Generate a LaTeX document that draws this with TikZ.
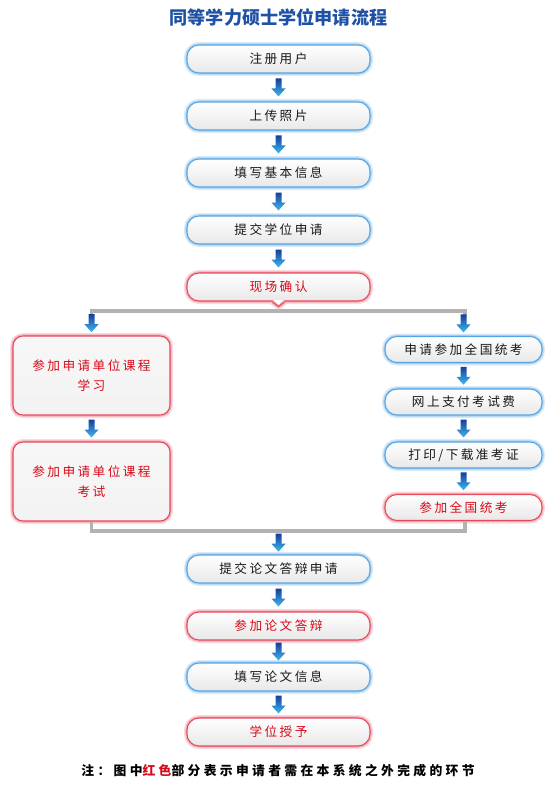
\documentclass[tikz,border=0pt]{standalone}
\usepackage{fontspec}
\setmainfont{Noto Sans CJK SC}
\newfontfamily\boxfont{Noto Sans CJK SC}[LetterSpace=19]
\newfontfamily\notefont{Noto Sans CJK SC}[LetterSpace=26]
\usetikzlibrary{calc}
\definecolor{titleblue}{RGB}{30,80,165}
\definecolor{glowblue}{RGB}{85,165,228}
\definecolor{glowred}{RGB}{232,72,92}
\definecolor{textred}{RGB}{215,10,25}
\definecolor{linegray}{RGB}{178,178,178}
\definecolor{arrowtop}{RGB}{22,62,155}
\definecolor{arrowbot}{RGB}{62,185,238}

\begin{document}
\begin{tikzpicture}[x=0.75pt,y=0.75pt,yscale=-1,xscale=1,
  box/.style={rectangle, rounded corners=9pt, minimum width=137.25pt, minimum height=21pt, inner sep=0pt,
    top color=white, bottom color=black!9, font=\boxfont\fontsize{9.5pt}{11pt}\selectfont, text=black!90},
  blueglow/.style={draw=glowblue, line width=0.8pt, preaction={draw=glowblue!22, line width=4.5pt}, preaction={draw=glowblue!50, line width=2.4pt}},
  redglow/.style={draw=glowred, line width=0.8pt, preaction={draw=glowred!20, line width=4.5pt}, preaction={draw=glowred!45, line width=2.4pt}},
  bluebox/.style={box, blueglow},
  redbox/.style={box, redglow, text=textred},
  sidebox/.style={minimum width=117.75pt, minimum height=19.5pt},
  bigbox/.style={box, redglow, text=textred, rounded corners=7.5pt, minimum width=117.75pt, minimum height=59.25pt,
    top color=black!3, bottom color=black!5, align=center},
  grayline/.style={draw=linegray, line width=2.4pt},
  downarrow/.pic={\path[top color=arrowtop, bottom color=arrowbot] (-3,9) -- (3,9) -- (3,-1) -- (7,-1) -- (0,-9) -- (-7,-1) -- (-3,-1) -- cycle;}
]
\useasboundingbox (0,0) rectangle (555,788);

% Title
\node (title) at (278.5,17) {\fontsize{13.6pt}{15pt}\selectfont\bfseries\color{titleblue}同等学力硕士学位申请流程};

% main column
\node [bluebox] (reg) at (278.5,59) {注册用户};
\node [bluebox] (photo) at (278.5,116) {上传照片};
\node [bluebox] (info) at (278.5,173) {填写基本信息};
\node [bluebox] (apply) at (278.5,230) {提交学位申请};
\node [redbox] (confirm) at (278.5,287) {现场确认};
% pointer under confirm
\fill [white] (272.5,300.5) -- (278.5,306.5) -- (284.5,300.5) -- cycle;
\draw [redglow, line join=round] (272.5,302) -- (278.5,306.5) -- (284.5,302);
\fill [white] (273.5,300) -- (278.5,304.8) -- (283.5,300) -- cycle;

% split line
\coordinate (split) at (278.5,311);
\draw [grayline] ($(split -| 91.5,0)+(0,4)$) -- (split -| 91.5,0) -- (split -| 465,0) -- ++(0,4);

% left column
\node [bigbox] (course) at (91.5,375.5) {参加申请单位课程\\[4pt]学习};
\node [bigbox] (exam) at (91.5,481.5) {参加申请单位课程\\[4pt]考试};

% right column
\node [bluebox, sidebox] (natapply) at (463.5,349.5) {申请参加全国统考};
\node [bluebox, sidebox] (pay) at (463.5,402) {网上支付考试费};
\node [bluebox, sidebox] (ticket) at (463.5,455) {打印/下载准考证};
\node [redbox, sidebox] (natexam) at (463.5,507.5) {参加全国统考};

% merge line
\coordinate (merge) at (278.5,531);
\draw [grayline] (exam.south) |- (merge) -| ($(natexam.south)+(1.5,0)$);

% thesis part
\node [bluebox] (thesis) at (278.5,569) {提交论文答辩申请};
\node [redbox] (defense) at (278.5,626) {参加论文答辩};
\node [bluebox] (thesisinfo) at (278.5,677) {填写论文信息};
\node [redbox] (degree) at (278.5,732) {学位授予};

% blue arrows
\pic at ($(reg.south)!0.5!(photo.north)$) {downarrow};
\pic at ($(photo.south)!0.5!(info.north)$) {downarrow};
\pic at ($(info.south)!0.5!(apply.north)$) {downarrow};
\pic at ($(apply.south)!0.5!(confirm.north)$) {downarrow};
\pic at ($(split -| course.north)!0.5!(course.north)$) {downarrow};
\pic at ($(split -| natapply.north)!0.5!(natapply.north)$) {downarrow};
\pic at ($(course.south)!0.5!(exam.north)$) {downarrow};
\pic at ($(natapply.south)!0.5!(pay.north)$) {downarrow};
\pic at ($(pay.south)!0.5!(ticket.north)$) {downarrow};
\pic at ($(ticket.south)!0.5!(natexam.north)$) {downarrow};
\pic at ($(merge)!0.5!(thesis.north)$) {downarrow};
\pic at ($(thesis.south)!0.5!(defense.north)$) {downarrow};
\pic at ($(defense.south)!0.5!(thesisinfo.north)$) {downarrow};
\pic at ($(thesisinfo.south)!0.5!(degree.north)$) {downarrow};

% Note
\node (note) at (278,771) {\notefont\fontsize{9.6pt}{11pt}\selectfont\bfseries 注：图中{\color{textred}红色}部分表示申请者需在本系统之外完成的环节};
\end{tikzpicture}
\end{document}
